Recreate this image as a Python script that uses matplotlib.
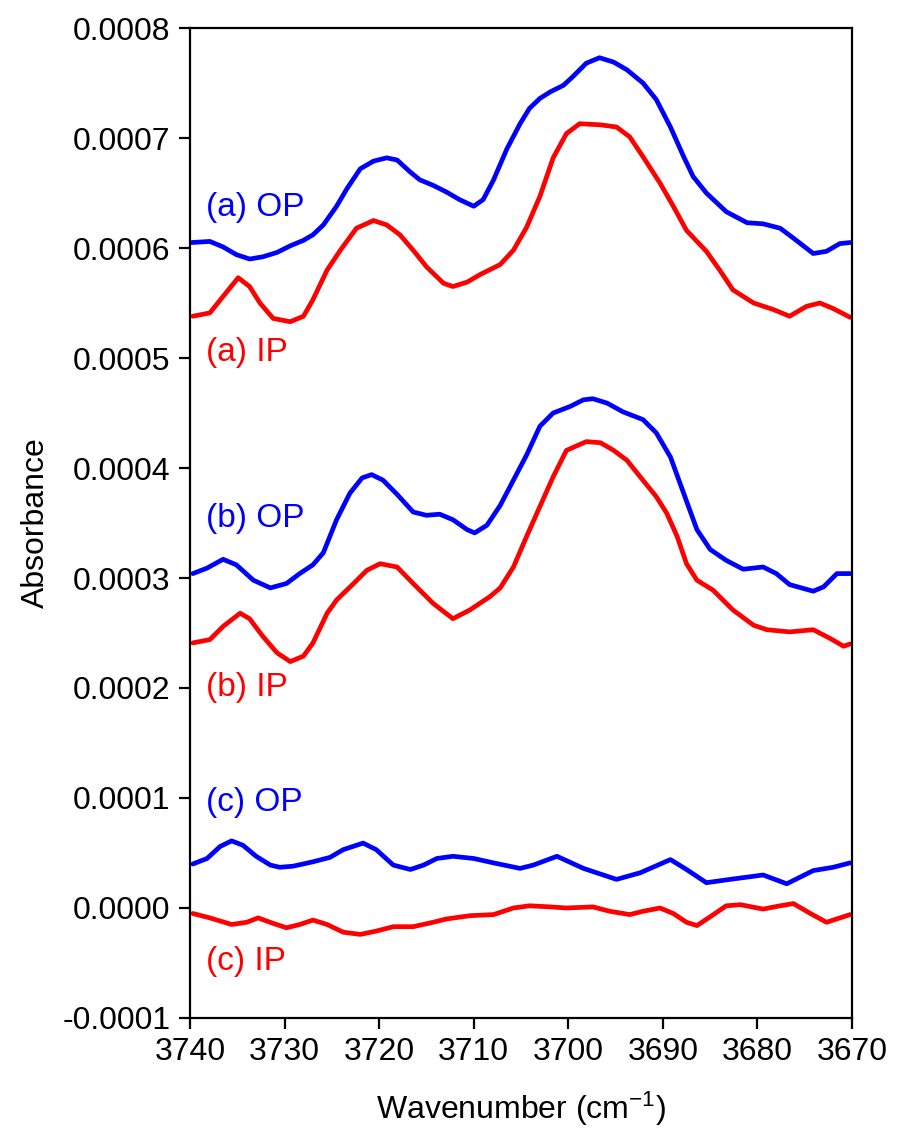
import numpy as np
import matplotlib
matplotlib.use("Agg")
import matplotlib.pyplot as plt
from matplotlib.ticker import FuncFormatter

plt.rcParams['font.family'] = ['Liberation Sans', 'DejaVu Sans']
plt.rcParams['axes.unicode_minus'] = False
plt.rcParams['mathtext.default'] = 'regular'

# absorbance values below are in units of 1e-4

# (a) OP
a_op_x = [3739.8, 3737.9, 3736.5, 3735.1, 3733.7, 3732.3, 3730.8, 3729.4, 3728.0, 3727.0,
          3725.9, 3724.5, 3723.4, 3722.0, 3720.6, 3719.2, 3718.1, 3716.7, 3715.7, 3714.3,
          3712.9, 3711.5, 3710.0, 3709.0, 3707.9, 3706.5, 3705.1, 3704.1, 3703.0, 3701.9,
          3700.5, 3699.5, 3698.1, 3696.7, 3695.2, 3693.8, 3692.1, 3690.7, 3689.2, 3687.8,
          3686.8, 3685.4, 3683.3, 3681.1, 3679.4, 3677.6, 3676.2, 3674.1, 3672.7, 3671.3, 3670.2]
a_op_y = [6.05, 6.06, 6.01, 5.94, 5.90, 5.92, 5.96, 6.02, 6.07, 6.12,
          6.21, 6.38, 6.54, 6.72, 6.79, 6.82, 6.80, 6.69, 6.62, 6.57,
          6.51, 6.44, 6.38, 6.44, 6.62, 6.90, 7.13, 7.27, 7.36, 7.42,
          7.48, 7.56, 7.68, 7.73, 7.69, 7.62, 7.50, 7.35, 7.10, 6.83,
          6.65, 6.50, 6.33, 6.23, 6.22, 6.18, 6.09, 5.95, 5.97, 6.04, 6.05]

# (a) IP
a_ip_x = [3739.7, 3737.9, 3736.5, 3734.9, 3733.7, 3732.6, 3731.2, 3729.4, 3728.0, 3727.0,
          3725.5, 3724.1, 3722.4, 3720.6, 3719.2, 3717.8, 3716.4, 3715.0, 3713.2, 3712.2,
          3710.7, 3709.3, 3707.2, 3705.8, 3704.4, 3703.0, 3701.6, 3700.2, 3698.8, 3696.6,
          3694.9, 3693.5, 3692.1, 3690.3, 3688.9, 3687.5, 3685.4, 3684.0, 3682.6, 3680.4,
          3678.3, 3676.6, 3674.8, 3673.4, 3672.0, 3670.2]
a_ip_y = [5.38, 5.41, 5.56, 5.73, 5.65, 5.50, 5.36, 5.33, 5.38, 5.53,
          5.80, 5.98, 6.18, 6.25, 6.21, 6.12, 5.98, 5.83, 5.68, 5.65,
          5.69, 5.76, 5.85, 5.98, 6.19, 6.47, 6.82, 7.04, 7.13, 7.12,
          7.10, 7.01, 6.83, 6.59, 6.38, 6.16, 5.97, 5.80, 5.62, 5.50,
          5.44, 5.38, 5.47, 5.50, 5.45, 5.37]

# (b) OP
b_op_x = [3739.7, 3738.2, 3736.5, 3735.1, 3733.3, 3731.5, 3729.8, 3728.4, 3727.0, 3725.9,
          3724.5, 3723.1, 3721.8, 3720.8, 3719.6, 3718.1, 3716.4, 3715.0, 3713.6, 3712.2,
          3710.7, 3709.9, 3708.6, 3707.2, 3705.8, 3704.4, 3703.0, 3701.6, 3699.8, 3698.4,
          3697.4, 3695.9, 3694.2, 3692.1, 3690.7, 3689.2, 3687.8, 3686.4, 3685.0, 3683.3,
          3681.5, 3679.4, 3678.0, 3676.6, 3674.1, 3673.0, 3671.6, 3670.2]
b_op_y = [3.04, 3.09, 3.17, 3.12, 2.98, 2.91, 2.95, 3.04, 3.12, 3.23,
          3.53, 3.77, 3.91, 3.94, 3.89, 3.76, 3.60, 3.57, 3.58, 3.53,
          3.44, 3.41, 3.48, 3.66, 3.89, 4.12, 4.38, 4.50, 4.56, 4.62,
          4.63, 4.59, 4.51, 4.44, 4.32, 4.10, 3.77, 3.44, 3.26, 3.16,
          3.08, 3.10, 3.04, 2.94, 2.88, 2.92, 3.04, 3.04]

# (b) IP
b_ip_x = [3739.7, 3737.9, 3736.5, 3734.7, 3733.7, 3732.3, 3730.8, 3729.4, 3728.0, 3727.0,
          3725.5, 3724.5, 3722.7, 3721.3, 3719.9, 3718.1, 3716.4, 3714.3, 3712.2, 3710.4,
          3708.3, 3707.2, 3705.8, 3704.4, 3703.0, 3701.6, 3700.2, 3698.1, 3696.6, 3695.2,
          3693.8, 3692.4, 3690.7, 3689.6, 3688.5, 3687.5, 3686.4, 3684.7, 3682.6, 3680.4,
          3679.0, 3676.6, 3674.1, 3672.3, 3670.9, 3670.2]
b_ip_y = [2.41, 2.44, 2.56, 2.68, 2.63, 2.47, 2.32, 2.24, 2.29, 2.41,
          2.68, 2.80, 2.95, 3.07, 3.13, 3.10, 2.95, 2.77, 2.63, 2.71,
          2.83, 2.91, 3.10, 3.38, 3.65, 3.92, 4.16, 4.24, 4.23, 4.16,
          4.07, 3.92, 3.74, 3.59, 3.38, 3.13, 2.98, 2.89, 2.71, 2.57,
          2.53, 2.51, 2.53, 2.45, 2.38, 2.40]

# (c) OP
c_op_x = [3739.7, 3738.2, 3736.8, 3735.6, 3734.4, 3733.0, 3731.5, 3730.5, 3729.1, 3727.0,
          3725.2, 3723.8, 3721.7, 3720.3, 3718.5, 3716.7, 3715.3, 3713.9, 3712.2, 3710.0,
          3707.9, 3705.1, 3703.7, 3701.2, 3698.4, 3694.9, 3692.4, 3689.2, 3687.5, 3685.4,
          3682.9, 3679.4, 3676.9, 3674.1, 3672.0, 3670.2]
c_op_y = [0.40, 0.45, 0.56, 0.61, 0.57, 0.47, 0.39, 0.37, 0.38, 0.42,
          0.46, 0.53, 0.59, 0.53, 0.39, 0.35, 0.39, 0.45, 0.47, 0.45,
          0.41, 0.36, 0.39, 0.47, 0.36, 0.26, 0.32, 0.44, 0.35, 0.23,
          0.26, 0.30, 0.22, 0.34, 0.37, 0.41]

# (c) IP
c_ip_x = [3739.7, 3737.9, 3735.6, 3734.0, 3732.8, 3731.2, 3729.8, 3728.4, 3727.0, 3725.5,
          3723.8, 3722.0, 3720.3, 3718.5, 3716.4, 3714.3, 3712.9, 3710.4, 3707.9, 3705.8,
          3704.1, 3701.9, 3700.2, 3697.4, 3695.6, 3693.5, 3692.1, 3690.3, 3688.9, 3687.5,
          3686.4, 3685.0, 3683.3, 3681.8, 3679.4, 3677.6, 3676.2, 3674.4, 3672.7, 3670.2]
c_ip_y = [-0.05, -0.09, -0.15, -0.13, -0.09, -0.14, -0.18, -0.15, -0.11, -0.15,
          -0.22, -0.24, -0.21, -0.17, -0.17, -0.13, -0.10, -0.07, -0.06, 0.00,
          0.02, 0.01, 0.00, 0.01, -0.03, -0.06, -0.03, 0.00, -0.05, -0.13,
          -0.16, -0.08, 0.02, 0.03, -0.01, 0.02, 0.04, -0.05, -0.13, -0.06]

labels = ['(a) OP', '(a) IP', '(b) OP', '(b) IP', '(c) OP', '(c) IP']
label_y = [6.37, 5.05, 3.54, 2.0, 0.955, -0.49]

scale = 1e-4
fig = plt.figure(figsize=(9, 11.35), dpi=100)
ax = fig.add_axes([0.2111, 0.1031, 0.7356, 0.8722])

blue = '#0000ff'
red = '#ff0000'
lw = 3.4
series = [(a_op_x, a_op_y, blue), (a_ip_x, a_ip_y, red),
          (b_op_x, b_op_y, blue), (b_ip_x, b_ip_y, red),
          (c_op_x, c_op_y, blue), (c_ip_x, c_ip_y, red)]
for xs, ys, c in series:
    ax.plot(xs, np.array(ys) * scale, color=c, lw=lw,
            solid_joinstyle='round', solid_capstyle='round')

for t, yv in zip(labels, label_y):
    ax.text(3738.3, yv * scale, t, color=blue if 'OP' in t else red,
            fontsize=24, va='center', ha='left')

ax.set_xlim(3740, 3670)
ax.set_ylim(-0.0001, 0.0008)
ax.set_xticks(np.arange(3740, 3669, -10))
ax.set_yticks(np.arange(-0.0001, 0.00081, 0.0001))
ax.yaxis.set_major_formatter(FuncFormatter(lambda v, p: f"{v:.4f}" if abs(v) > 1e-9 else "0.0000"))

ax.tick_params(direction='out', length=8, width=1.6, labelsize=23, pad=6)
for s in ax.spines.values():
    s.set_linewidth(1.6)

ax.set_xlabel('Wavenumber (cm$^{-1}$)', fontsize=23, labelpad=16)
ax.set_ylabel('Absorbance', fontsize=23, labelpad=8)

plt.savefig('out.png', dpi=100)
